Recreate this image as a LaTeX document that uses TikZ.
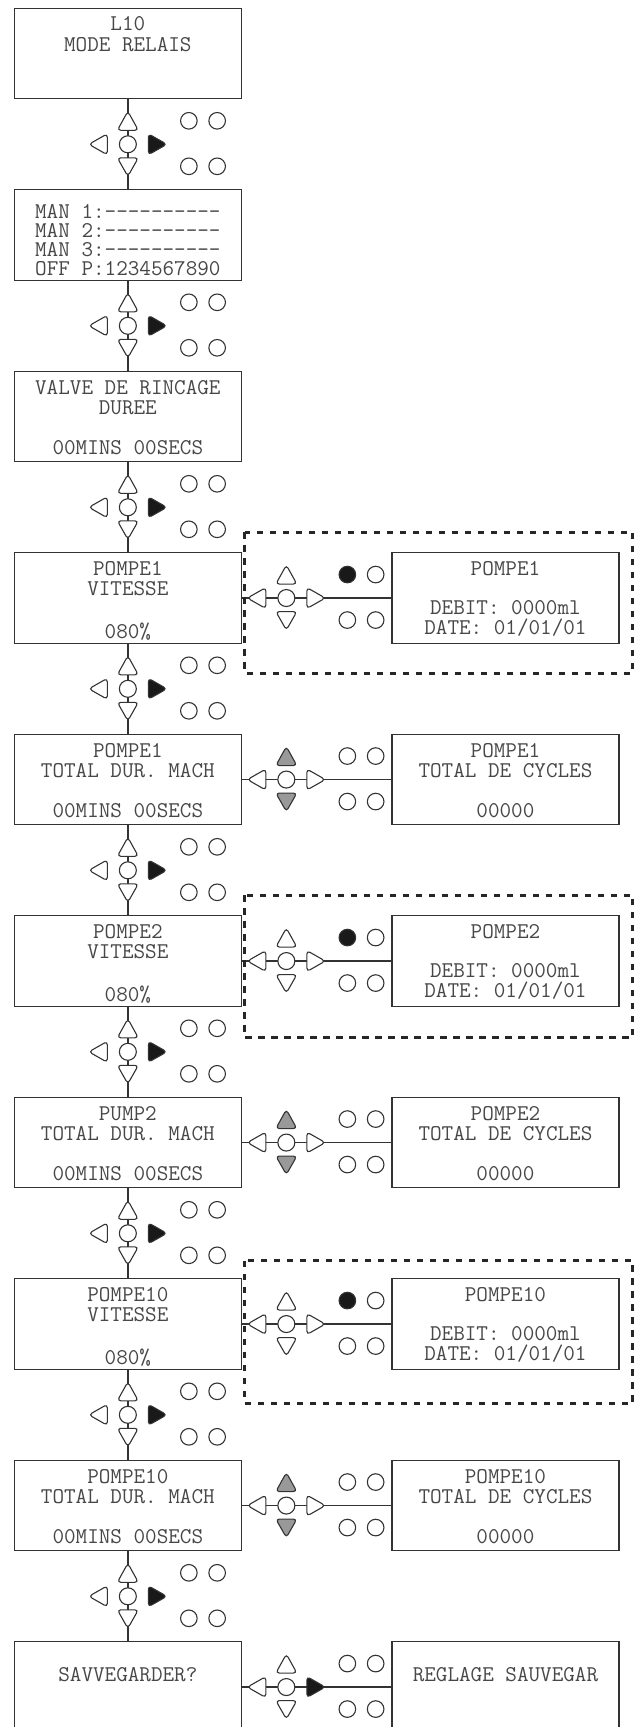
\documentclass[tikz,border=0pt]{standalone}
\usepackage{fontspec}
\usepackage{tikz}
\usetikzlibrary{positioning, calc}
\newcommand{\lcdfont}{\ttfamily\fontsize{22.5pt}{20.1pt}\selectfont}
\newcommand{\lcdtext}[2][23pt]{\parbox[c][90.5pt][t]{227pt}{\centering\rule{0pt}{#1}#2}}
\tikzset{
  lcd/.style={draw=black!80, line width=1.3pt, inner sep=0pt, outer sep=0pt, font=\lcdfont, text=black!72},
  link/.style={draw=black!80, line width=1.3pt},
  btn/.style={draw=black!80, line width=1.1pt, fill=white, rounded corners=3.5pt},
  hit/.style={fill=black!90},
  dim/.style={fill=black!40},
  panel/.style={draw=black!85, line width=3pt, dash pattern=on 6.5pt off 6.5pt},
  kup/.style={}, kdown/.style={}, kright/.style={}, kdot/.style={},
  navkeys/.style={kright/.style={hit}},
  viewkeys/.style={kdot/.style={hit}},
  totalkeys/.style={kup/.style={dim}, kdown/.style={dim}},
  keypad/.pic={
    \path[btn, kup] (0,-33) -- (10.5,-14) -- (-10.5,-14) -- cycle;
    \path[btn, kdown] (0,32) -- (10.5,13.5) -- (-10.5,13.5) -- cycle;
    \path[btn] (-39,0) -- (-20.5,10.5) -- (-20.5,-10.5) -- cycle;
    \path[btn, kright] (39,0) -- (20.5,10.5) -- (20.5,-10.5) -- cycle;
    \path[btn] (0,0) circle[radius=8.5];
    \path[btn, kdot] (61,-23.5) circle[radius=8.3];
    \path[btn] (89.3,-23.5) circle[radius=8.3];
    \path[btn] (61,22) circle[radius=8.3];
    \path[btn] (89.3,22) circle[radius=8.3];
  }
}

\begin{document}
\begin{tikzpicture}[x=1pt, y=-1pt, node distance=91pt and 150.6pt]
    \useasboundingbox (0,0) rectangle (642,1727);
    \clip (0,0) rectangle (642,1727);

    % menu screens
    \node[lcd] (mode) at (127.85,53.55) {\lcdtext[21.7pt]{L10\\[1.6pt]MODE RELAIS}};
    \node[lcd, below=of mode] (man) {\lcdtext[28.5pt]{MAN 1:----------\\[-0.9pt]MAN 2:----------\\[-0.9pt]MAN 3:----------\\[-0.9pt]OFF P:1234567890}};
    \node[lcd, below=of man] (rinse) {\lcdtext{VALVE DE RINCAGE\\DUREE\\[20.1pt]00MINS 00SECS}};
    \node[lcd, below=of rinse] (speed1) {\lcdtext{POMPE1\\VITESSE\\[22pt]080\%}};
    \node[lcd, below=of speed1] (total1) {\lcdtext{POMPE1\\TOTAL DUR. MACH\\[20.1pt]00MINS 00SECS}};
    \node[lcd, below=of total1] (speed2) {\lcdtext{POMPE2\\VITESSE\\[22pt]080\%}};
    \node[lcd, below=of speed2] (total2) {\lcdtext{PUMP2\\TOTAL DUR. MACH\\[20.1pt]00MINS 00SECS}};
    \node[lcd, below=of total2] (speed10) {\lcdtext{POMPE10\\VITESSE\\[22pt]080\%}};
    \node[lcd, below=of speed10] (total10) {\lcdtext{POMPE10\\TOTAL DUR. MACH\\[20.1pt]00MINS 00SECS}};
    \node[lcd, below=of total10] (save) {\lcdtext[40pt]{SAVVEGARDER?}};

    % side screens
    \node[lcd, right=of speed1] (flow1) {\lcdtext[22.3pt]{POMPE1\\[19.4pt]DEBIT: 0000ml\\DATE: 01/01/01}};
    \node[lcd, right=of total1] (cycles1) {\lcdtext{POMPE1\\TOTAL DE CYCLES\\[20.1pt]00000}};
    \node[lcd, right=of speed2] (flow2) {\lcdtext[22.3pt]{POMPE2\\[19.4pt]DEBIT: 0000ml\\DATE: 01/01/01}};
    \node[lcd, right=of total2] (cycles2) {\lcdtext{POMPE2\\TOTAL DE CYCLES\\[20.1pt]00000}};
    \node[lcd, right=of speed10] (flow10) {\lcdtext[22.3pt]{POMPE10\\[19.4pt]DEBIT: 0000ml\\DATE: 01/01/01}};
    \node[lcd, right=of total10] (cycles10) {\lcdtext{POMPE10\\TOTAL DE CYCLES\\[20.1pt]00000}};
    \node[lcd, right=of save] (saved) {\lcdtext[40pt]{REGLAGE SAUVEGAR}};

    \draw[link] (mode) -- (man);
    \draw[link] (man) -- (rinse);
    \draw[link] (rinse) -- (speed1);
    \draw[link] (speed1) -- (total1);
    \draw[link] (total1) -- (speed2);
    \draw[link] (speed2) -- (total2);
    \draw[link] (total2) -- (speed10);
    \draw[link] (speed10) -- (total10);
    \draw[link] (total10) -- (save);
    \draw[link] (speed1) -- (flow1);
    \draw[link] (total1) -- (cycles1);
    \draw[link] (speed2) -- (flow2);
    \draw[link] (total2) -- (cycles2);
    \draw[link] (speed10) -- (flow10);
    \draw[link] (total10) -- (cycles10);
    \draw[link] (save) -- (saved);

    \draw[panel] ($(speed1.north east)+(3.5,-20.5)$) rectangle ($(flow1.south east)+(14,30)$);
    \draw[panel] ($(speed2.north east)+(3.5,-20.5)$) rectangle ($(flow2.south east)+(14,31.5)$);
    \draw[panel] ($(speed10.north east)+(3.5,-18)$) rectangle ($(flow10.south east)+(14,34.5)$);

    \pic[navkeys] at ($(mode.south)!0.5!(man.north)$) {keypad};
    \pic[navkeys] at ($(man.south)!0.5!(rinse.north)$) {keypad};
    \pic[navkeys] at ($(rinse.south)!0.5!(speed1.north)$) {keypad};
    \pic[navkeys] at ($(speed1.south)!0.5!(total1.north)$) {keypad};
    \pic[navkeys] at ($(total1.south)!0.5!(speed2.north)$) {keypad};
    \pic[navkeys] at ($(speed2.south)!0.5!(total2.north)$) {keypad};
    \pic[navkeys] at ($(total2.south)!0.5!(speed10.north)$) {keypad};
    \pic[navkeys] at ($(speed10.south)!0.5!(total10.north)$) {keypad};
    \pic[navkeys] at ($(total10.south)!0.5!(save.north)$) {keypad};
    \pic[viewkeys] at ($(speed1.east)+(45,0)$) {keypad};
    \pic[totalkeys] at ($(total1.east)+(45,0)$) {keypad};
    \pic[viewkeys] at ($(speed2.east)+(45,0)$) {keypad};
    \pic[totalkeys] at ($(total2.east)+(45,0)$) {keypad};
    \pic[viewkeys] at ($(speed10.east)+(45,0)$) {keypad};
    \pic[totalkeys] at ($(total10.east)+(45,0)$) {keypad};
    \pic[navkeys] at ($(save.east)+(45,0)$) {keypad};
\end{tikzpicture}
\end{document}
